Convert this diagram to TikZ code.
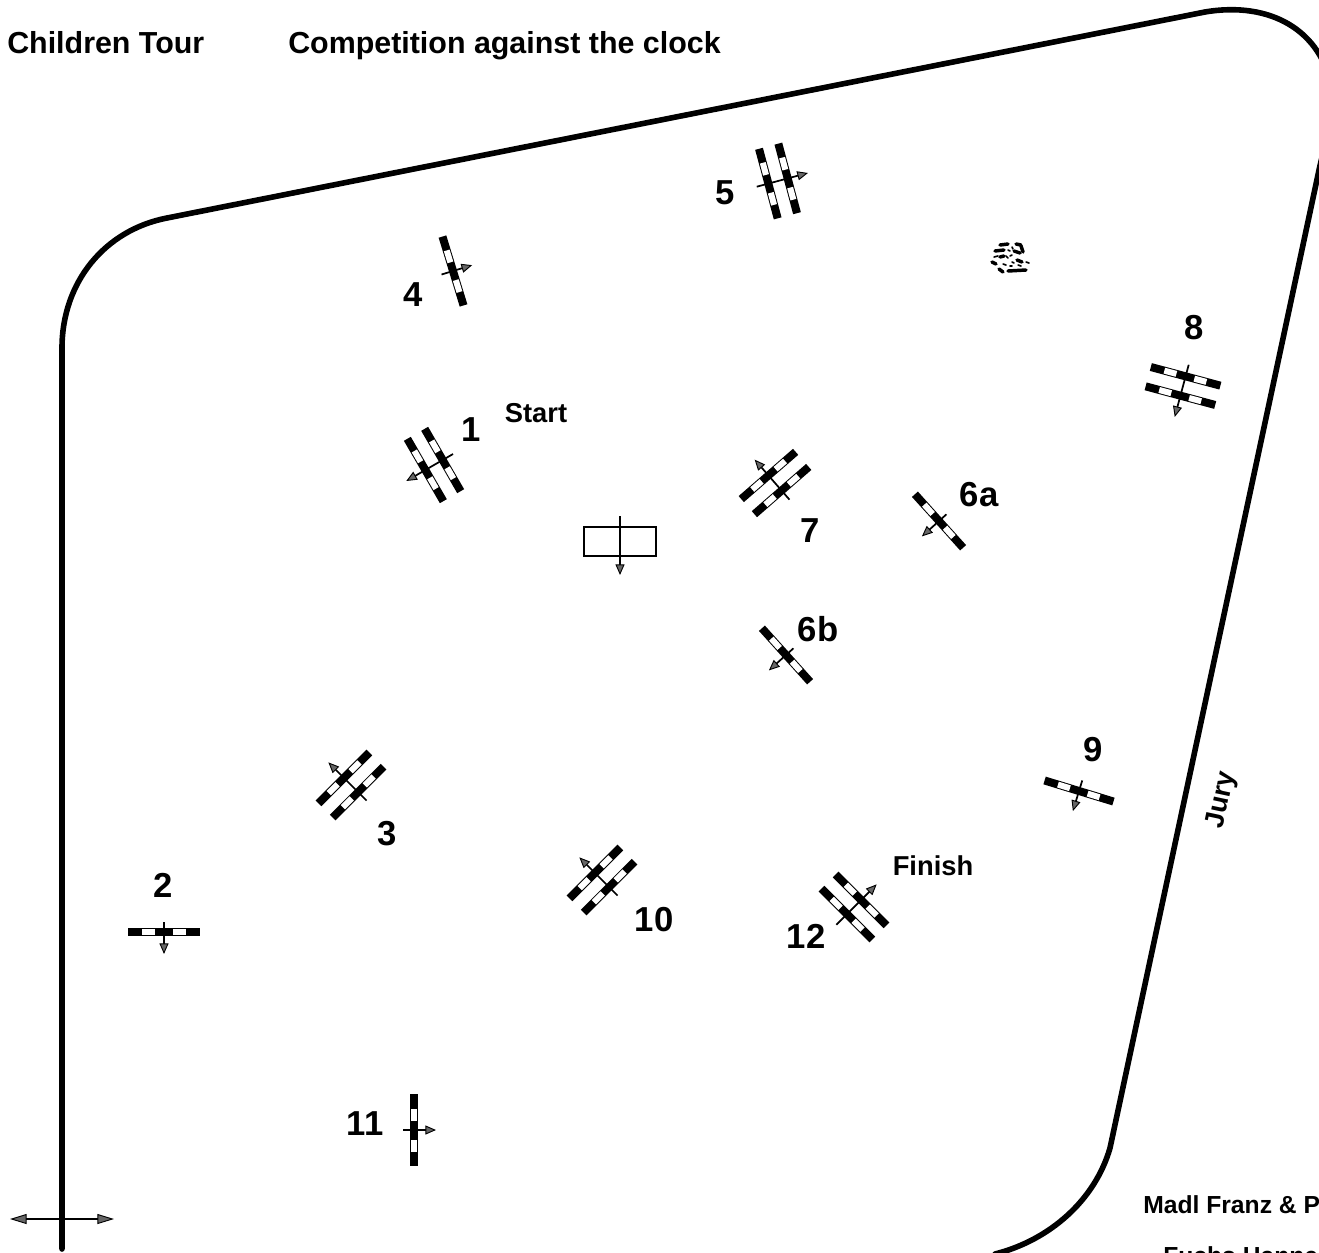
\documentclass[tikz,border=0pt]{standalone}
\usepackage{fontspec}
\setmainfont{Liberation Sans}
\usetikzlibrary{arrows.meta}
\newcommand\gatebar[1]{%
  \fill[black] (#1,-36) rectangle (#1+8,36);
  \fill[white] (#1+1,-22) rectangle (#1+7,-9.5);
  \fill[white] (#1+1,9) rectangle (#1+7,21.5);
}
\newcommand\singlegate[5]{% x y angle back fwd
  \begin{scope}[shift={(#1,-#2)},rotate=#3]
    \gatebar{-4}
    \draw[gatearrow] (-#4,0) -- (#5,0);
  \end{scope}}
\newcommand\doublegate[5]{%
  \begin{scope}[shift={(#1,-#2)},rotate=#3]
    \gatebar{-14}\gatebar{6}
    \draw[gatearrow] (-#4,0) -- (#5,0);
  \end{scope}}
\tikzset{
  x=0.75pt,y=0.75pt,
  gatetip/.tip={Triangle[length=8pt,width=6.8pt,fill=gray!80!black,line width=.7pt]},
  bigtip/.tip={Triangle[length=12.5pt,width=7.5pt,fill=gray!80!black,line width=.7pt]},
  gatearrow/.style={line width=1.3pt,-gatetip},
  bigarrow/.style={line width=1.4pt,bigtip-bigtip},
  ringline/.style={line width=4.2pt,line cap=round,line join=round},
  num/.style={inner sep=0pt,anchor=base,font=\bfseries\fontsize{26}{30}\selectfont},
  lab/.style={inner sep=0pt,anchor=base,font=\bfseries\fontsize{20.5}{24}\selectfont},
  title/.style={inner sep=0pt,anchor=base west,font=\bfseries\fontsize{22.8}{26}\selectfont},
  small/.style={inner sep=0pt,anchor=base west,font=\bfseries\fontsize{18.5}{22}\selectfont},
  hedge/.style={line width=2.6pt,line cap=round},
  hedgedot/.style={line width=1.2pt,line cap=round},
}
\begin{document}
\begin{tikzpicture}
\useasboundingbox (0,-1252) rectangle (1319,0);
\clip (0,-1252) rectangle (1319,0);
% ring
\draw[ringline] (62,-1249) -- (62,-348)
  .. controls (62,-282) and (105,-230) .. (167,-218)
  -- (1205,-12)
  .. controls (1270,-1) and (1322,-30) .. (1332,-90)
  .. controls (1335,-115) and (1328,-130) .. (1319,-170)
  -- (1110,-1148)
  .. controls (1095,-1200) and (1050,-1240) .. (995,-1254);
% entrance arrow
\coordinate (inL) at (10,-1219);
\coordinate (inR) at (114,-1219);
\draw[bigarrow] (inL) -- (inR);
% fences
\singlegate{164}{932}{-90}{10}{22}
\singlegate{414}{1130}{0}{11}{22}
\singlegate{453}{271}{17}{12}{20}
\singlegate{939}{521}{222}{10}{23}
\singlegate{786}{655}{222}{10}{23}
\singlegate{1079}{791}{253}{11}{21}
\doublegate{434}{465}{210}{22}{32}
\doublegate{778}{181}{15}{22}{31}
\doublegate{351}{785}{135}{22}{32}
\doublegate{775}{483}{131}{22}{31}
\doublegate{602}{880}{135}{22}{32}
\doublegate{854}{907}{45}{25}{32}
\doublegate{1183}{386}{255}{22}{32}
% box
\draw[line width=1pt] (584,-527) rectangle (656,-556);
\draw[gatearrow] (620,-516) -- (620,-575);
% hedge
\foreach \a/\b/\c/\d in {
 1000/245/1008/244, 1016/244/1021/245, 1021/246/1023/252, 995/251/1004/250,
 1014/251/1020/253, 992/262/996/264, 1000/257/1004/256,
 999/269/1003/272, 1008/271/1026/270, 1017/260/1022/262}
  \draw[hedge] (\a,-\b) -- (\c,-\d);
\foreach \a/\b/\c/\d in {
 1008/250/1010/251, 1006/256/1008/258, 1012/262/1014/263, 1003/264/1006/265,
 1010/266/1012/266, 994/257/998/256, 1018/265/1021/266, 1026/262/1029/263,
 1010/256/1012/255, 1012/247/1013/249}
  \draw[hedgedot] (\a,-\b) -- (\c,-\d);
% labels
\node[title] (t1) at (7,-54) {Children Tour};
\node[title] (t2) at (288,-54) {Competition against the clock};
\node[num] (n1) at (471,-441) {1};
\node[num] (n2) at (163,-897) {2};
\node[num] (n3) at (387,-845) {3};
\node[num] (n4) at (413,-306) {4};
\node[num] (n5) at (725,-204) {5};
\node[num] (n6a) at (979,-506) {6a};
\node[num] (n6b) at (818,-641) {6b};
\node[num] (n7) at (810,-542) {7};
\node[num] (n8) at (1194,-339) {8};
\node[num] (n9) at (1093,-761) {9};
\node[num] (n10) at (654,-931) {10};
\node[num] (n11) at (365,-1135) {11};
\node[num] (n12) at (806,-948) {12};
\node[lab] (start) at (536,-422) {Start};
\node[lab] (finish) at (933,-875) {Finish};
\node[lab,anchor=center,rotate=78] (jury) at (1222,-800) {Jury};
\node[small] (madl) at (1143,-1213) {Madl Franz \& P};
\node[small] (fuchs) at (1163,-1264) {Fuchs Hanne};
\end{tikzpicture}
\end{document}
